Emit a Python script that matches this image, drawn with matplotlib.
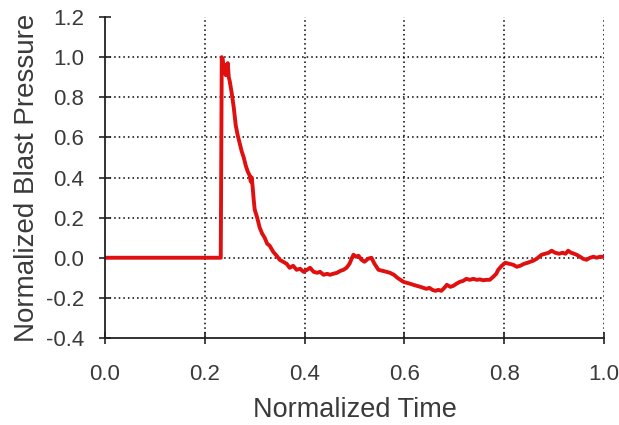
import matplotlib
matplotlib.use("Agg")
import matplotlib.pyplot as plt

# values
time = [0.000, 0.232, 0.234, 0.236, 0.238, 0.240, 0.242, 0.244, 0.246, 0.248,
        0.250, 0.254, 0.258, 0.262, 0.266, 0.270, 0.274, 0.278, 0.282, 0.286,
        0.290, 0.292, 0.294, 0.296, 0.298, 0.300, 0.305, 0.310, 0.315, 0.320,
        0.325, 0.330, 0.337, 0.344, 0.350, 0.357, 0.364, 0.370, 0.377, 0.384,
        0.391, 0.398, 0.405, 0.411, 0.418, 0.425, 0.431, 0.438, 0.445, 0.451,
        0.457, 0.465, 0.472, 0.478, 0.484, 0.490, 0.495, 0.498, 0.503, 0.508,
        0.514, 0.520, 0.527, 0.534, 0.540, 0.548, 0.556, 0.564, 0.571, 0.579,
        0.586, 0.592, 0.598, 0.605, 0.612, 0.618, 0.625, 0.632, 0.638, 0.644,
        0.650, 0.656, 0.662, 0.668, 0.674, 0.680, 0.685, 0.692, 0.698, 0.704,
        0.711, 0.718, 0.724, 0.731, 0.738, 0.745, 0.751, 0.758, 0.765, 0.771,
        0.778, 0.784, 0.788, 0.795, 0.802, 0.810, 0.818, 0.825, 0.832, 0.840,
        0.847, 0.852, 0.858, 0.865, 0.870, 0.875, 0.882, 0.889, 0.895, 0.902,
        0.910, 0.917, 0.923, 0.928, 0.934, 0.940, 0.945, 0.952, 0.958, 0.965,
        0.972, 0.979, 0.985, 0.992, 1.000]
pressure = [0.000, 0.000, 1.000, 0.990, 0.930, 0.960, 0.910, 0.950, 0.970, 0.900,
            0.880, 0.820, 0.750, 0.660, 0.610, 0.570, 0.530, 0.500, 0.460, 0.430,
            0.410, 0.380, 0.400, 0.350, 0.290, 0.240, 0.200, 0.150, 0.120, 0.100,
            0.070, 0.060, 0.030, 0.010, -0.010, -0.020, -0.030, -0.050, -0.040, -0.060,
            -0.055, -0.070, -0.060, -0.050, -0.070, -0.075, -0.070, -0.085, -0.080, -0.085,
            -0.080, -0.075, -0.065, -0.060, -0.050, -0.030, 0.000, 0.015, 0.005, 0.010,
            -0.010, -0.020, -0.005, 0.000, -0.030, -0.060, -0.065, -0.070, -0.075, -0.085,
            -0.100, -0.110, -0.120, -0.125, -0.130, -0.135, -0.140, -0.145, -0.150, -0.155,
            -0.150, -0.160, -0.165, -0.160, -0.165, -0.150, -0.135, -0.145, -0.140, -0.130,
            -0.120, -0.115, -0.105, -0.110, -0.105, -0.110, -0.108, -0.112, -0.110, -0.110,
            -0.095, -0.080, -0.060, -0.040, -0.025, -0.030, -0.035, -0.045, -0.040, -0.030,
            -0.025, -0.020, -0.015, -0.005, 0.005, 0.015, 0.020, 0.025, 0.035, 0.025,
            0.020, 0.025, 0.020, 0.035, 0.025, 0.020, 0.015, 0.005, -0.005, -0.010,
            0.000, 0.005, 0.000, 0.005, 0.005]

x_ticks = [0.0, 0.2, 0.4, 0.6, 0.8, 1.0]
y_ticks = [-0.4, -0.2, 0.0, 0.2, 0.4, 0.6, 0.8, 1.0, 1.2]

plt.rcParams["font.family"] = ["Liberation Sans", "DejaVu Sans"]

fig = plt.figure(figsize=(6.19, 4.25), dpi=100)
ax = fig.add_axes([0.1696, 0.2047, 0.8062, 0.7553])

ax.plot(time, pressure, color="#e01010", linewidth=2.8, solid_joinstyle="round")

ax.set_xlim(0, 1)
ax.set_ylim(-0.4, 1.2)
ax.set_xticks(x_ticks)
ax.set_yticks(y_ticks)
ax.set_xticklabels([f"{v:.1f}" for v in x_ticks])
ax.set_yticklabels([f"{v:.1f}" for v in y_ticks])

# dotted grid, no line on the top edge or over the axes
ax.grid(True, color="black", linestyle=(0, (1, 2)), linewidth=1.1)
ax.yaxis.get_gridlines()[-1].set_visible(False)
ax.xaxis.get_gridlines()[0].set_visible(False)
ax.yaxis.get_gridlines()[0].set_visible(False)

for side in ["top", "right"]:
    ax.spines[side].set_visible(False)
for side in ["left", "bottom"]:
    ax.spines[side].set_color("#222222")
    ax.spines[side].set_linewidth(1.3)

ax.tick_params(direction="inout", length=8, width=1.2, color="#222222",
               labelsize=16, labelcolor="#3a3a3a")
ax.tick_params(axis="y", pad=11)
ax.tick_params(axis="x", pad=15)

ax.set_xlabel("Normalized Time", fontsize=19.5, color="#3a3a3a", labelpad=8)
ax.set_ylabel("Normalized Blast Pressure", fontsize=20, color="#3a3a3a", labelpad=4)

fig.savefig("out.png", dpi=100)
